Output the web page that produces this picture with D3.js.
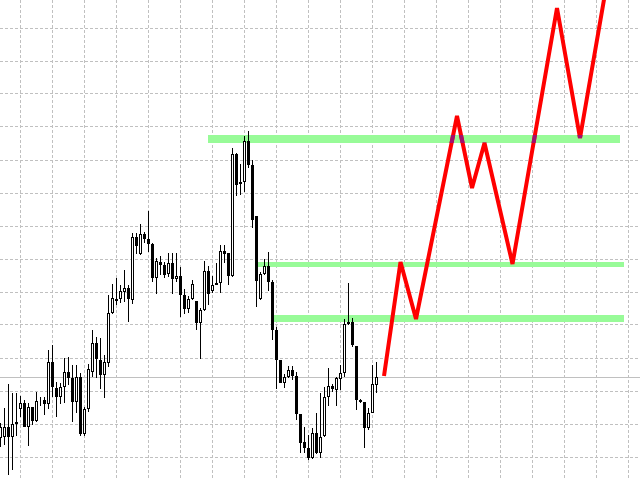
<!DOCTYPE html>
<html>
<head>
<meta charset="utf-8">
<script src="https://cdn.jsdelivr.net/npm/d3@7"></script>
<style>
  html, body { margin: 0; padding: 0; background: #ffffff; }
  svg { display: block; }
</style>
</head>
<body>
<svg id="chart" width="640" height="480"></svg>
<script>
// ---------- DATA (price units, arbitrary) ----------
const open  = [42,43,53,43,56,71,77,53,73,59,78,80,76,118,92,83,93,108,102,78,
               103,46,71,108,137,120,105,117,167,181,181,188,192,180,243,226,246,241,236,202,
               218,215,206,217,201,204,185,171,181,179,157,170,209,189,197,197,229,227,204,326,
               298,298,339,315,264,181,206,214,198,150,120,97,103,110,104,66,38,32,22,47,
               27,44,83,94,90,101,107,156,158,134,80,78,52,67,95];
const high  = [57,72,96,87,87,84,80,77,73,88,83,83,130,135,98,97,122,123,115,115,
               107,73,116,150,143,142,125,185,196,202,195,210,195,247,247,256,248,269,237,222,
               224,218,227,227,227,213,191,184,200,179,172,219,214,204,217,235,235,227,332,327,
               316,344,349,320,264,208,221,228,200,153,120,106,114,114,108,66,53,45,52,67,
               87,93,112,96,103,115,161,197,162,134,81,78,72,115,118];
const low   = [33,35,5,10,44,63,53,34,55,58,74,65,71,83,63,76,77,95,58,67,
               44,44,68,103,102,91,82,113,166,175,177,178,158,176,226,225,237,228,198,186,
               205,202,203,186,198,163,166,167,180,150,121,169,175,187,195,187,217,195,203,284,
               285,288,312,252,173,180,205,189,140,91,97,92,102,100,60,27,27,20,21,26,
               22,43,74,88,74,90,103,155,133,70,77,32,50,67,87];
const close = [53,53,43,56,58,77,53,73,59,79,79,76,118,93,83,93,108,102,78,103,
               46,71,111,137,121,105,118,167,182,179,189,192,181,243,234,246,241,236,202,219,
               215,205,217,201,204,185,171,181,196,157,170,209,186,195,195,229,226,204,326,295,
               296,339,315,260,199,206,214,198,150,120,97,103,110,104,66,37,32,22,47,27,
               43,83,94,91,102,107,156,158,135,80,78,52,67,96,103];

// support / resistance levels (price, first bar, last bar)
const levelPrice = [341, 215.5, 161.5];
const levelStart = [51.875, 64.125, 68.375];
const levelEnd   = [154.875, 155.875, 155.875];

// projected zigzag path (bar index, price)
const zigBar   = [95.875, 100, 103.875, 114.125, 117.875, 121, 128, 139.125, 144.875, 152.375];
const zigPrice = [104, 218, 161, 364, 292, 337, 216, 472, 342, 515];

// ---------- SCALES ----------
const W = 640, H = 480;
const x = d3.scaleLinear().domain([0, 1]).range([0.5, 4.5]);   // bar index -> px (centre)
const y = d3.scaleLinear().domain([0, 480]).range([480, 0]);

const svg = d3.select("#chart");
svg.append("rect").attr("width", W).attr("height", H).attr("fill", "#ffffff");

// ---------- GRID ----------
const gridBars = d3.range(4.875, 160, 8);
const gridPrices = d3.range(452, -10, -33);
const grid = svg.append("g").attr("stroke", "#c0c0c0").attr("stroke-width", 1)
  .attr("stroke-dasharray", "3,2").attr("shape-rendering", "crispEdges");
grid.selectAll("line.v").data(gridBars).join("line").attr("class", "v")
  .attr("x1", d => Math.floor(x(d)) + 0.5).attr("x2", d => Math.floor(x(d)) + 0.5)
  .attr("y1", 0).attr("y2", H);
grid.selectAll("line.h").data(gridPrices).join("line").attr("class", "h")
  .attr("y1", d => Math.floor(y(d)) + 0.5).attr("y2", d => Math.floor(y(d)) + 0.5)
  .attr("x1", 0).attr("x2", W);

// ---------- BID LINE ----------
const lastClose = close[close.length - 1];
svg.append("line")
  .attr("x1", 0).attr("x2", W)
  .attr("y1", Math.floor(y(lastClose)) + 0.5).attr("y2", Math.floor(y(lastClose)) + 0.5)
  .attr("stroke", "#c0c0c0").attr("stroke-width", 1).attr("shape-rendering", "crispEdges");

// ---------- LEVELS ----------
const levelWidth = [8, 5, 7];
const levels = levelPrice.map((p, i) => ({ p, s: levelStart[i], e: levelEnd[i], w: levelWidth[i] }));
svg.append("g").selectAll("rect").data(levels).join("rect")
  .attr("x", d => x(d.s))
  .attr("width", d => x(d.e) - x(d.s))
  .attr("y", d => y(d.p) - d.w / 2)
  .attr("height", d => d.w)
  .attr("fill", "#98fb98")
  .attr("shape-rendering", "crispEdges");

// ---------- CANDLES ----------
const bars = open.map((o, i) => ({ i, o, h: high[i], l: low[i], c: close[i] }));
const cg = svg.append("g").attr("shape-rendering", "crispEdges");
cg.selectAll("line").data(bars).join("line")
  .attr("x1", d => x(d.i)).attr("x2", d => x(d.i))
  .attr("y1", d => y(d.h)).attr("y2", d => y(d.l))
  .attr("stroke", "#000").attr("stroke-width", 1);
cg.selectAll("rect").data(bars).join("rect")
  .each(function (d) {
    const yTop = y(Math.max(d.o, d.c)), yBot = y(Math.min(d.o, d.c));
    const r = d3.select(this);
    if (d.c >= d.o) {
      r.attr("x", x(d.i) - 1).attr("width", 2)
       .attr("y", yTop + 0.5).attr("height", Math.max(0, yBot - yTop - 1))
       .attr("fill", "#fff").attr("stroke", "#000").attr("stroke-width", 1);
    } else {
      r.attr("x", x(d.i) - 1.5).attr("width", 3)
       .attr("y", yTop).attr("height", Math.max(1, yBot - yTop))
       .attr("fill", "#000");
    }
  });

// ---------- ZIGZAG ----------
const zig = zigBar.map((b, i) => [b, zigPrice[i]]);
const lineGen = d3.line().x(d => x(d[0])).y(d => y(d[1]));
svg.append("path").datum(zig)
  .attr("d", lineGen)
  .attr("fill", "none").attr("stroke", "#ff0000").attr("stroke-width", 4)
  .attr("stroke-linejoin", "miter");

// overlap tint where the zigzag crosses the top level
const topLevel = levels[0];
svg.append("clipPath").attr("id", "topband").append("rect")
  .attr("x", x(topLevel.s)).attr("width", x(topLevel.e) - x(topLevel.s))
  .attr("y", y(topLevel.p) - topLevel.w / 2).attr("height", topLevel.w);
svg.append("path").datum(zig)
  .attr("d", lineGen)
  .attr("clip-path", "url(#topband)")
  .attr("fill", "none").attr("stroke", "#a0106e").attr("stroke-width", 4)
  .attr("stroke-linejoin", "miter");
</script>
</body>
</html>
